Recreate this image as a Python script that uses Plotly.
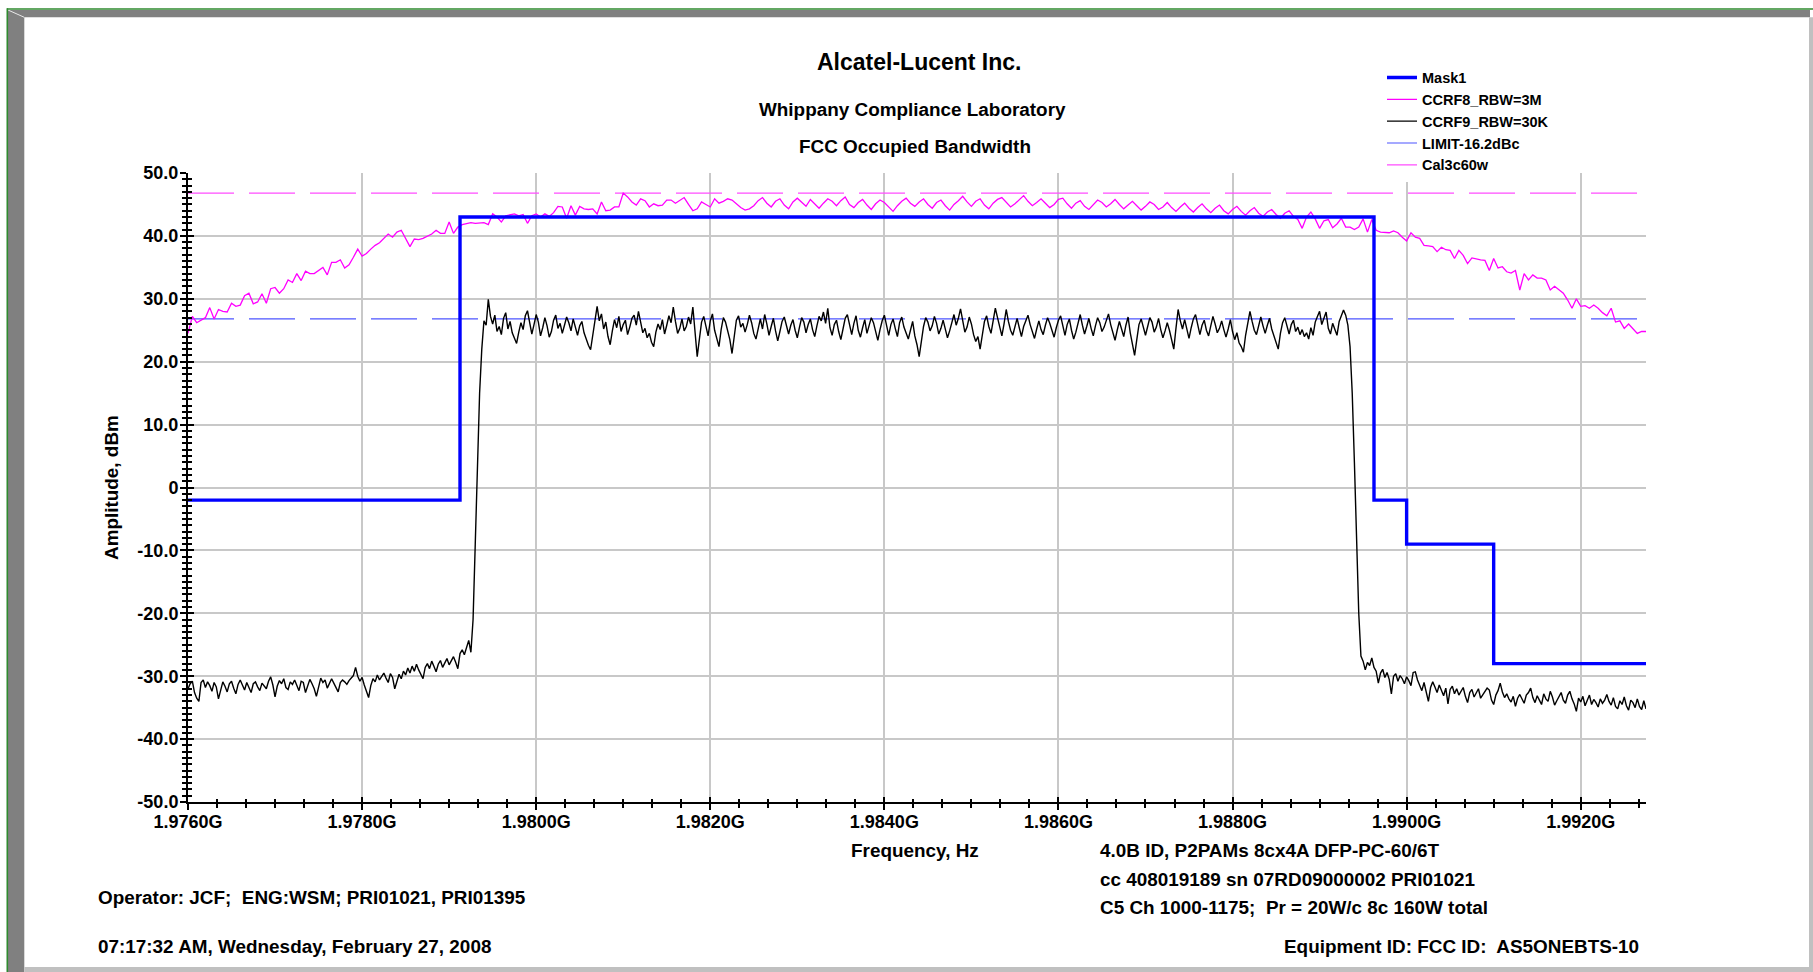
import numpy as np
import plotly.graph_objects as go

# ---------------------------------------------------------------- data
F_START = 1.97600   # GHz, left edge of the sweep
F_STOP = 1.99275    # GHz, right edge of the sweep

# CCRF9, RBW = 30 kHz trace (dBm), 25 kHz per point
ccrf9_rbw30k = [
    # 1.97600 .. 1.97925  lower noise floor
    -32.0, -31.2, -30.8, -32.6, -33.5, -34.0, -31.0, -30.6, -31.8, -30.9, -31.5, -32.4, -31.0, -31.7, -33.6, -32.0, -30.9, -31.6, -32.5, -31.2,
    -30.8, -31.9, -32.8, -31.3, -30.6, -31.4, -32.2, -31.0, -31.8, -32.6, -31.2, -30.9, -31.7, -32.3, -31.1, -31.5, -32.0, -30.8, -30.1, -31.4,
    -33.3, -31.6, -30.7, -31.2, -30.4, -31.8, -32.1, -30.9, -31.3, -30.6, -31.5, -32.3, -30.8, -31.0, -32.6, -31.4, -30.5, -31.2, -32.0, -33.2,
    -31.6, -30.3, -31.0, -30.6, -31.9, -31.2, -30.4, -31.1, -31.8, -32.5, -31.0, -30.6, -30.9, -31.3, -30.7, -30.2, -29.9, -28.6, -30.0, -30.8,
    -30.2, -31.4, -32.6, -33.4, -31.5, -30.4, -30.9, -29.8, -30.6, -30.1, -29.5, -30.3, -31.0, -29.6, -30.2, -32.0, -30.8, -29.7, -30.4, -29.2,
    -29.8, -28.7, -29.5, -28.4, -29.2, -28.1, -29.0, -29.8, -30.4, -28.6, -28.0, -28.8, -27.6, -28.4, -29.3, -28.1, -27.5, -28.6, -27.9, -27.2,
    -28.2, -27.4, -26.9, -27.8, -28.8, -26.4, -25.8, -26.6, -25.5, -24.3, -26.2,
    # lower band edge
    -21.0, -9.0, 4.0, 15.0, 22.0,
    # 1.97940 .. 1.98933  occupied band
    26.5, 25.8, 29.9, 27.2, 26.0, 27.4, 24.8, 25.6, 24.3, 26.9, 27.8, 25.2, 26.4, 24.6, 23.8, 22.9, 24.7, 26.2, 25.1, 27.3,
    28.1, 26.0, 24.4, 25.9, 27.5, 26.3, 24.1, 25.4, 27.0, 25.7, 23.9, 24.8, 26.6, 27.4, 25.3, 26.1, 24.5, 25.8, 27.1, 26.2,
    24.9, 26.8, 25.5, 24.2, 25.7, 26.4, 24.6, 23.4, 22.6, 21.9, 24.3, 27.1, 28.8, 26.5, 27.6, 25.2, 26.3, 24.0, 22.7, 24.9,
    26.7, 25.4, 27.2, 24.8, 25.9, 26.6, 24.3, 25.5, 26.9, 27.4, 25.8, 28.0, 26.1, 24.6, 25.3, 23.8, 24.5, 23.1, 22.4, 24.7,
    26.0, 25.1, 26.7, 24.4, 25.8, 27.3, 26.2, 28.7, 26.4, 24.5, 25.3, 26.8, 24.9, 25.6, 27.1, 26.0, 28.7, 24.2, 20.8, 23.6,
    26.3, 27.2, 25.4, 24.1, 26.5, 27.6, 25.0, 23.7, 22.4, 25.1, 27.0, 26.3, 24.8, 23.5, 21.3, 24.2, 26.6, 27.3, 25.5, 26.1,
    24.7, 25.9, 27.4, 26.2, 24.5, 23.6, 25.3, 26.8, 25.2, 27.5, 26.0, 24.2, 25.6, 26.9, 24.9, 23.3, 24.8, 26.4, 27.1, 25.7,
    24.4, 25.8, 26.7, 25.0, 23.8, 25.5, 27.0, 26.3, 24.6, 25.9, 26.8, 25.1, 24.0, 25.7, 27.2, 26.5, 27.9, 26.1, 28.5, 25.4,
    24.2, 25.9, 26.6, 24.8, 23.5, 25.2, 26.9, 27.5, 25.6, 24.3, 26.1, 27.3, 25.0, 23.9, 25.4, 26.7, 24.5, 25.8, 27.0, 26.2,
    24.6, 23.4, 25.1, 26.5, 27.4, 25.7, 24.2, 25.9, 26.8, 25.3, 24.0, 26.2, 27.1, 25.5, 24.7, 23.6, 25.0, 26.4, 24.1, 22.7,
    20.8, 23.4, 25.6, 27.0, 26.3, 24.9, 25.7, 27.2, 26.1, 24.4, 25.3, 26.6, 25.2, 23.8, 24.9, 26.3, 27.5, 25.8, 26.9, 28.4,
    26.2, 24.7, 25.5, 27.1, 26.0, 24.3, 23.2, 24.0, 22.0, 24.6, 26.4, 27.3, 25.6, 24.5, 26.8, 28.5, 27.0, 25.3, 24.1, 26.0,
    28.3, 26.4, 25.0, 24.2, 25.7, 26.9, 25.4, 24.0, 25.6, 26.7, 27.4, 25.9, 24.6, 23.7, 25.2, 26.5, 25.1, 24.3, 25.8, 27.0,
    26.1, 24.8, 23.9, 25.4, 26.6, 27.3, 25.5, 24.2, 25.9, 26.8, 25.0, 23.6, 24.7, 26.2, 27.5, 25.8, 24.4, 25.6, 26.9, 25.3,
    24.1, 25.7, 27.0, 26.2, 24.8, 25.5, 26.7, 27.6, 25.9, 24.5, 23.4, 25.0, 26.4, 25.2, 24.0, 25.8, 27.1, 24.6, 22.8, 21.0,
    23.5, 25.9, 26.8, 25.4, 24.2, 25.6, 27.0, 26.3, 24.7, 25.5, 26.9, 25.1, 23.8, 24.9, 26.2, 25.0, 23.4, 22.0, 25.3, 28.3,
    26.5, 25.2, 26.7, 24.9, 23.7, 25.4, 26.8, 27.5, 25.6, 24.3, 25.8, 26.6, 25.0, 24.1, 25.7, 27.2, 26.0, 24.6, 25.3, 26.5,
    25.1, 23.9, 25.2, 26.7, 24.8, 23.5, 24.6, 23.0, 22.4, 21.5, 24.2, 26.3, 28.0, 26.4, 25.0, 24.3, 25.9, 27.1, 25.7, 24.5,
    25.8, 26.9, 25.2, 24.0, 23.1, 22.0, 24.5, 26.2, 27.0, 25.5, 24.4, 25.9, 26.6, 24.8, 25.5, 24.3, 25.1, 24.0, 24.6, 23.6,
    25.4, 24.2, 26.3, 27.2, 28.0, 25.9, 26.8, 27.9, 25.3, 24.4, 26.1, 25.0, 24.2, 26.4, 27.3, 28.2, 27.4, 25.8,
    # upper band edge
    22.4, 15.0, 4.0, -9.0, -20.0,
    # 1.98948 .. 1.99275  upper noise floor
    -26.8, -27.6, -29.0, -27.8, -28.3, -27.1, -28.6, -29.2, -31.1, -29.5, -28.9, -30.2, -29.4, -30.5, -32.8, -30.0, -29.6, -30.8, -29.9, -30.4,
    -31.2, -30.1, -30.7, -31.5, -29.4, -29.3, -30.6, -31.6, -32.3, -31.0, -32.5, -34.0, -31.8, -30.9, -31.7, -32.6, -31.4, -32.2, -33.1, -31.9,
    -34.4, -32.1, -31.6, -32.8, -32.0, -33.0, -32.4, -31.8, -33.2, -34.2, -32.6, -32.1, -33.3, -32.7, -32.0, -33.5, -32.9, -32.4, -31.9, -32.2,
    -33.8, -34.5, -33.0, -32.3, -31.1, -32.5, -33.4, -32.8, -33.6, -34.1, -33.2, -34.8, -33.5, -32.9, -33.7, -34.3, -33.0, -32.6, -31.9, -33.4,
    -34.2, -33.1, -33.8, -34.5, -32.8, -33.6, -34.0, -32.4, -33.3, -34.6, -33.9, -33.2, -32.6, -33.8, -34.3, -33.0, -32.4, -33.6, -34.4, -35.6,
    -33.5, -34.1, -33.2, -34.7, -33.9, -33.0, -34.5, -33.7, -34.2, -34.9, -33.6, -34.3, -33.8, -32.9, -34.0, -34.6, -33.4, -34.8, -35.2, -33.9,
    -34.5, -33.3, -34.7, -35.4, -33.8, -34.2, -35.0, -33.6, -34.8, -35.3, -33.9, -35.2,
]

# CCRF8, RBW = 3 MHz trace (dBm), 50 kHz per point
ccrf8_rbw3m = [
    24.5, 27.2, 26.2, 26.6, 27.0, 28.6, 26.8, 28.3, 28.0, 27.9, 29.3, 28.8, 29.0, 30.5, 30.9, 29.2, 29.5, 30.8, 29.3, 31.6,
    31.8, 30.9, 31.6, 33.0, 32.6, 34.0, 32.9, 34.4, 34.0, 34.0, 34.5, 35.0, 33.8, 35.8, 35.8, 36.2, 34.9, 35.4, 36.6, 37.9,
    36.8, 37.2, 37.9, 38.5, 38.9, 39.6, 40.3, 39.8, 40.6, 40.9,
    39.7, 38.3, 39.5, 39.4, 39.6, 39.9, 40.3, 40.9, 40.4, 40.4, 42.2, 40.4, 41.4, 41.8, 41.9, 42.1, 42.0, 42.0, 42.1, 41.8,
    43.5, 43.0, 42.2, 43.2, 43.3, 43.5, 43.2, 43.4, 42.0, 43.2, 43.5, 43.0, 43.5, 43.1, 43.7, 44.7, 44.6, 42.8, 44.8, 43.3,
    44.7, 44.3, 44.2, 44.3, 43.5, 45.4, 44.0, 44.1, 44.6, 44.6, 46.8, 46.2, 45.4, 44.9, 45.9, 45.6, 44.6, 45.1, 44.8, 44.9,
    45.7, 45.7, 45.2, 45.7, 46.1, 45.0, 44.0, 44.3, 45.4, 45.0, 44.6, 45.9, 45.2, 45.5, 45.9, 45.7, 45.1, 44.5, 44.1, 44.3,
    44.8, 45.6, 46.1, 45.2, 44.6, 45.5, 45.9, 44.9, 44.3, 45.4, 46.0, 45.3, 44.7, 45.8, 45.1, 44.4, 45.2, 45.9, 45.5, 44.8,
    45.6, 46.2, 45.0, 44.5, 45.3, 45.8, 44.9, 44.2, 45.1, 45.7, 45.3, 44.6, 43.9, 44.8, 45.5, 46.0, 45.2, 44.7, 45.4, 45.9,
    45.0, 44.4, 45.3, 45.7, 44.8, 44.1, 45.0, 45.6, 46.3, 45.4, 44.7, 45.5, 45.9, 44.9, 44.3, 45.2, 45.8, 46.1, 45.3, 44.6,
    45.1, 45.7, 46.4, 45.5, 44.8, 45.3, 45.9, 45.2, 44.5, 45.0, 45.8, 46.0, 45.1, 44.4, 45.2, 45.6, 44.7, 44.2, 45.0, 45.7,
    45.3, 44.6, 45.1, 45.8, 45.0, 44.3, 44.9, 45.5, 44.8, 44.1, 44.7, 45.4, 45.0, 44.2, 44.6, 45.3, 44.5, 43.9, 44.6, 45.2,
    44.4, 43.8, 44.5, 45.1, 44.3, 43.7, 44.4, 44.9, 44.0, 43.5, 44.2, 44.7, 43.9, 43.3, 44.0, 44.5, 43.6, 43.1, 43.8, 44.2,
    43.4, 42.8, 43.6, 44.0, 43.1, 42.6,
    41.2, 43.0, 43.8, 42.7, 41.2, 42.4, 42.6, 41.3, 41.9, 42.8, 41.4, 41.4, 41.0, 41.4, 42.7, 40.6, 42.6, 40.9, 40.6, 40.6,
    40.5, 40.8, 40.5, 39.8, 39.2, 40.5, 39.8, 39.6, 38.5, 38.4, 38.3, 37.5, 38.2, 37.8, 37.7, 36.4, 37.7, 36.9, 35.6, 36.5,
    36.3, 36.2, 36.1, 34.5, 36.4, 34.9, 35.1, 34.3, 34.1, 34.5, 31.4, 34.0, 33.0, 33.8, 33.3, 33.3, 33.0, 31.4, 32.0, 31.4,
    30.9, 29.8, 28.5, 30.0, 28.8, 28.9, 28.5, 29.0, 28.5, 27.8, 27.3, 28.5, 26.3, 26.5, 25.3, 26.0, 25.3, 24.5, 24.8, 24.8,
]

# emission mask: breakpoints (GHz) and level held from each breakpoint (dBm)
mask1_freq = [1.976000, 1.979125, 1.989625, 1.990000, 1.991000, 1.992750]
mask1_level = [-2.0, 43.0, -2.0, -9.0, -28.0, -28.0]

limit_level = 26.8      # LIMIT-16.2dBc
cal_level = 46.8        # Cal3c60w

x_tick_vals = [1.976, 1.978, 1.980, 1.982, 1.984, 1.986, 1.988, 1.990, 1.992]
x_tick_text = ["1.9760G", "1.9780G", "1.9800G", "1.9820G", "1.9840G",
               "1.9860G", "1.9880G", "1.9900G", "1.9920G"]
y_tick_vals = [-50, -40, -30, -20, -10, 0, 10, 20, 30, 40, 50]
y_tick_text = ["-50.0", "-40.0", "-30.0", "-20.0", "-10.0", "0",
               "10.0", "20.0", "30.0", "40.0", "50.0"]

# ---------------------------------------------------------------- geometry
W, H = 1813, 972
L, R, T, B = 188, 167, 173, 170
PW, PH = W - L - R, H - T - B


def px(x):
    """page pixel column -> paper x"""
    return (x - L) / PW


def py(y):
    """page pixel row -> paper y"""
    return (H - B - y) / PH


FONT = "Liberation Sans, Arial, Helvetica, sans-serif"
GRID = "#c8c8c8"

f9 = np.linspace(F_START, F_STOP, len(ccrf9_rbw30k))
f8 = np.linspace(F_START, F_STOP, len(ccrf8_rbw3m))

fig = go.Figure()

fig.add_trace(go.Scatter(
    x=[F_START, F_STOP], y=[limit_level, limit_level], mode="lines",
    name="LIMIT-16.2dBc", legendrank=4,
    line=dict(color="#4d55ff", width=1.2, dash="46px,15px")))
fig.add_trace(go.Scatter(
    x=[F_START, F_STOP], y=[cal_level, cal_level], mode="lines",
    name="Cal3c60w", legendrank=5,
    line=dict(color="#ff4dff", width=1.2, dash="46px,15px")))
fig.add_trace(go.Scatter(
    x=f8, y=ccrf8_rbw3m, mode="lines", name="CCRF8_RBW=3M", legendrank=2,
    line=dict(color="#ff00ff", width=1.3)))
fig.add_trace(go.Scatter(
    x=f9, y=ccrf9_rbw30k, mode="lines", name="CCRF9_RBW=30K", legendrank=3,
    line=dict(color="#000000", width=1.4)))
fig.add_trace(go.Scatter(
    x=mask1_freq, y=mask1_level, mode="lines", name="Mask1", legendrank=1,
    line=dict(color="#0000ff", width=3.4, shape="hv")))
# carrier for the second tick set (ticks pointing into the plot)
fig.add_trace(go.Scatter(x=[None], y=[None], xaxis="x2", yaxis="y2",
                         showlegend=False, hoverinfo="skip"))

tickfont = dict(family=FONT, size=18, color="black", weight="bold")
x_range = [F_START, F_STOP]
y_range = [-50, 50]
x_minor_step = 0.002 / 6

fig.update_layout(
    width=W, height=H,
    margin=dict(l=L, r=R, t=T, b=B, pad=0),
    paper_bgcolor="white", plot_bgcolor="white",
    showlegend=True,
    hovermode=False,
    legend=dict(x=px(1382), y=py(61.5), xanchor="left", yanchor="top",
                bgcolor="white", borderwidth=0, tracegroupgap=0,
                itemwidth=30, traceorder="normal",
                font=dict(family=FONT, size=14.5, color="black", weight="bold")),
    xaxis=dict(range=x_range, tickmode="array", tickvals=x_tick_vals,
               ticktext=x_tick_text, tickfont=tickfont, ticklabelstandoff=-3,
               ticks="outside", ticklen=5.5, tickwidth=2, tickcolor="black",
               showline=True, linecolor="black", linewidth=2,
               showgrid=True, gridcolor=GRID, gridwidth=1.5, zeroline=False,
               minor=dict(ticks="outside", ticklen=3.5, tickwidth=1.5,
                          tickcolor="black", tick0=F_START, dtick=x_minor_step,
                          showgrid=False)),
    yaxis=dict(range=y_range, tickmode="array", tickvals=y_tick_vals,
               ticktext=y_tick_text, tickfont=tickfont, ticklabelstandoff=-2,
               ticks="outside", ticklen=6, tickwidth=2, tickcolor="black",
               showline=True, linecolor="black", linewidth=2,
               showgrid=True, gridcolor=GRID, gridwidth=1.5, zeroline=False,
               minor=dict(ticks="outside", ticklen=4, tickwidth=1.5,
                          tickcolor="black", tick0=0, dtick=1,
                          showgrid=False)),
    xaxis2=dict(range=x_range, overlaying="x", anchor="y", side="bottom",
                tickmode="array", tickvals=x_tick_vals, showticklabels=False,
                ticks="inside", ticklen=5.5, tickwidth=2, tickcolor="black",
                showline=False, showgrid=False, zeroline=False,
                minor=dict(ticks="inside", ticklen=3.5, tickwidth=1.5,
                           tickcolor="black", tick0=F_START, dtick=x_minor_step,
                           showgrid=False)),
    yaxis2=dict(range=y_range, overlaying="y", anchor="x", side="left",
                tickmode="array", tickvals=y_tick_vals, showticklabels=False,
                ticks="inside", ticklen=6, tickwidth=2, tickcolor="black",
                showline=False, showgrid=False, zeroline=False,
                minor=dict(ticks="inside", ticklen=4, tickwidth=1.5,
                           tickcolor="black", tick0=0, dtick=1,
                           showgrid=False)),
)

# ---------------------------------------------------------------- window frame
frame = [
    # dark bevel, top and left
    dict(type="rect", x0=px(8), x1=px(1810), y0=py(10), y1=py(17.3),
         fillcolor="#808080", line_width=0),
    dict(type="rect", x0=px(8), x1=px(24.3), y0=py(10), y1=py(972),
         fillcolor="#808080", line_width=0),
    # light bevel, right and bottom
    dict(type="rect", x0=px(1809), x1=px(1813), y0=py(17.3), y1=py(972),
         fillcolor="#c0c0c0", line_width=0),
    dict(type="rect", x0=px(24.3), x1=px(1809), y0=py(967), y1=py(972),
         fillcolor="#c0c0c0", line_width=0),
    # corner highlight
    dict(type="line", x0=px(8), x1=px(24.3), y0=py(10), y1=py(17.3),
         line=dict(color="#e8e8e8", width=1)),
    # green outline
    dict(type="line", x0=px(7), x1=px(1813), y0=py(9), y1=py(9),
         line=dict(color="#2f8a2f", width=1.6)),
    dict(type="line", x0=px(7.3), x1=px(7.3), y0=py(8.2), y1=py(972),
         line=dict(color="#2f8a2f", width=1.6)),
]
for s in frame:
    fig.add_shape(xref="paper", yref="paper", layer="below", **s)


# ---------------------------------------------------------------- text
def label(text, x, y, size=18.9, xanchor="center", angle=0):
    fig.add_annotation(text=text, x=px(x), y=py(y), xref="paper", yref="paper",
                       xanchor=xanchor, yanchor="middle", showarrow=False,
                       textangle=angle, borderpad=0,
                       font=dict(family=FONT, size=size, color="black",
                                 weight="bold"))


label("Alcatel-Lucent Inc.", 918.9, 61.7, size=23)
label("Whippany Compliance Laboratory", 912, 109)
label("FCC Occupied Bandwidth", 915, 146.7)
label("Frequency, Hz", 915, 850)
label("Amplitude, dBm", 111, 488, angle=-90)
label("Operator: JCF;  ENG:WSM; PRI01021, PRI01395", 97.3, 897.5, xanchor="left")
label("07:17:32 AM, Wednesday, February 27, 2008", 97.3, 946.7, xanchor="left")
label("4.0B ID, P2PAMs 8cx4A DFP-PC-60/6T", 1098.5, 850.5, xanchor="left")
label("cc 408019189 sn 07RD09000002 PRI01021", 1098.5, 879.5, xanchor="left")
label("C5 Ch 1000-1175;  Pr = 20W/c 8c 160W total", 1098.5, 907.5, xanchor="left")
label("Equipment ID: FCC ID:  AS5ONEBTS-10", 1640, 946.7, xanchor="right")

fig.write_html("out.html", config={"displayModeBar": False},
               post_script="document.body.style.margin='0';")
